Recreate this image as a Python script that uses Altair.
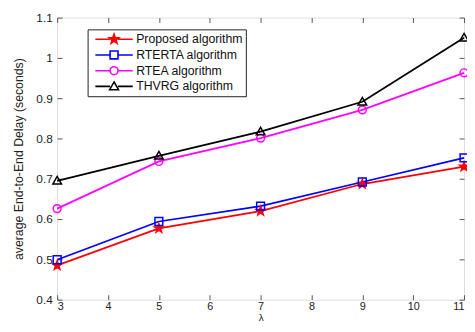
import altair as alt
import pandas as pd
import math

lam = [3, 5, 7, 9, 11]
series_names = ["Proposed algorithm", "RTERTA algorithm", "RTEA algorithm", "THVRG algorithm"]
proposed = [0.485, 0.577, 0.620, 0.687, 0.730]
rterta = [0.499, 0.594, 0.632, 0.692, 0.752]
rtea = [0.626, 0.743, 0.801, 0.871, 0.963]
thvrg = [0.695, 0.757, 0.817, 0.891, 1.050]
x_ticks = [3, 4, 5, 6, 7, 8, 9, 10, 11]
y_ticks = [0.4, 0.5, 0.6, 0.7, 0.8, 0.9, 1.0, 1.1]

colors = ["#ff0000", "#0000ff", "#ff00ff", "#000000"]
fills = ["#ff0000", "transparent", "transparent", "transparent"]

rows = []
for name, vals in zip(series_names, [proposed, rterta, rtea, thvrg]):
    for x, y in zip(lam, vals):
        rows.append({"lam": x, "delay": y, "series": name})
df = pd.DataFrame(rows)


def star(R, r):
    pts = []
    for k in range(10):
        a = math.radians(-90 + 36 * k)
        rad = R if k % 2 == 0 else r
        pts.append((rad * math.cos(a), rad * math.sin(a)))
    return "M" + "L".join(f"{px:.3f},{py:.3f}" for px, py in pts) + "Z"


def circle(r):
    return f"M{-r},0A{r},{r} 0 1,0 {r},0A{r},{r} 0 1,0 {-r},0Z"


def square(h):
    return f"M{-h},{-h}H{h}V{h}H{-h}Z"


def tri(h):
    return f"M0,{-h}L{h},{0.75*h}L{-h},{0.75*h}Z"


marker_paths = [star(1.2, 0.48), square(1), circle(1), tri(1.1)]
m = 0.67
seg = f"M-3.17,0H{-m}M{m},0H3.17"
legend_paths = [seg + star(0.85, 0.34), seg + square(m), seg + circle(m), seg + tri(0.75)]

FONT = "Liberation Sans"
AX = "#555555"
TXT = "#222222"

xs = alt.Scale(domain=[3, 11], nice=False)
ys = alt.Scale(domain=[0.4, 1.1], nice=False)

x_bottom = alt.Axis(values=x_ticks, orient="bottom", title="λ", labelFontSize=11, titleFontSize=10,
                    titleFontWeight="normal", labelColor=TXT, titleColor=TXT, labelPadding=1.5,
                    titleY=21, titleBaseline="alphabetic", ticks=False, domain=False, grid=False,
                    labelFont=FONT, titleFont=FONT)
y_left = alt.Axis(values=y_ticks, orient="left", title="average End-to-End Delay (seconds)", format=".1~f",
                  labelFontSize=12, titleFontSize=12.5, titleFontWeight="normal", labelColor=TXT,
                  titleColor=TXT, labelPadding=5, titlePadding=11, ticks=False, domain=False, grid=False,
                  labelFont=FONT, titleFont=FONT)


def tick_axis(orient):
    return alt.Axis(values=(x_ticks if orient in ("bottom", "top") else y_ticks), orient=orient, title=None,
                    labels=False, domain=False, grid=False, ticks=True, tickSize=5, tickColor=AX,
                    tickWidth=1, offset=-5)


base = alt.Chart(df)
color_scale = alt.Scale(domain=series_names, range=colors)
fill_scale = alt.Scale(domain=series_names, range=fills)

lines = base.mark_line(strokeWidth=1.8).encode(
    x=alt.X("lam:Q", scale=xs, axis=x_bottom),
    y=alt.Y("delay:Q", scale=ys, axis=y_left),
    color=alt.Color("series:N", scale=color_scale, legend=None),
    detail="series:N",
)

points = base.mark_point(size=64, strokeWidth=1.5, opacity=1).encode(
    x=alt.X("lam:Q", scale=xs, axis=tick_axis("bottom")),
    y=alt.Y("delay:Q", scale=ys, axis=tick_axis("left")),
    color=alt.Color("series:N", scale=color_scale, legend=None),
    fill=alt.Fill("series:N", scale=fill_scale, legend=None),
    shape=alt.Shape("series:N", scale=alt.Scale(domain=series_names, range=marker_paths), legend=None),
)

leg = alt.Legend(title=None, orient="none", legendX=31, legendY=12, labelFont=FONT, labelFontSize=12.5,
                 labelColor="#111111", strokeColor="#222222", fillColor="white", padding=3, rowPadding=0,
                 symbolSize=144, symbolOffset=16.9, labelOffset=15.5, symbolStrokeWidth=1.6, symbolOpacity=1)

legend_layer = base.transform_filter("datum.delay < 0").mark_point(size=144, opacity=1).encode(
    x=alt.X("lam:Q", scale=xs, axis=tick_axis("top")),
    y=alt.Y("delay:Q", scale=ys, axis=tick_axis("right")),
    color=alt.Color("series:N", scale=color_scale, legend=leg),
    fill=alt.Fill("series:N", scale=fill_scale, legend=leg),
    shape=alt.Shape("series:N", scale=alt.Scale(domain=series_names, range=legend_paths), legend=leg),
)

chart = alt.layer(lines, points, legend_layer).resolve_scale(
    color="independent", fill="independent", shape="independent"
).resolve_axis(x="independent", y="independent").properties(
    width=414, height=287,
    padding={"left": 50, "top": 7, "right": 3, "bottom": 22},
    autosize=alt.AutoSizeParams(type="none"),
).configure_view(stroke=AX, strokeWidth=1).configure(background="white")

chart.save("out.html", embed_options={"renderer": "svg", "actions": False})
